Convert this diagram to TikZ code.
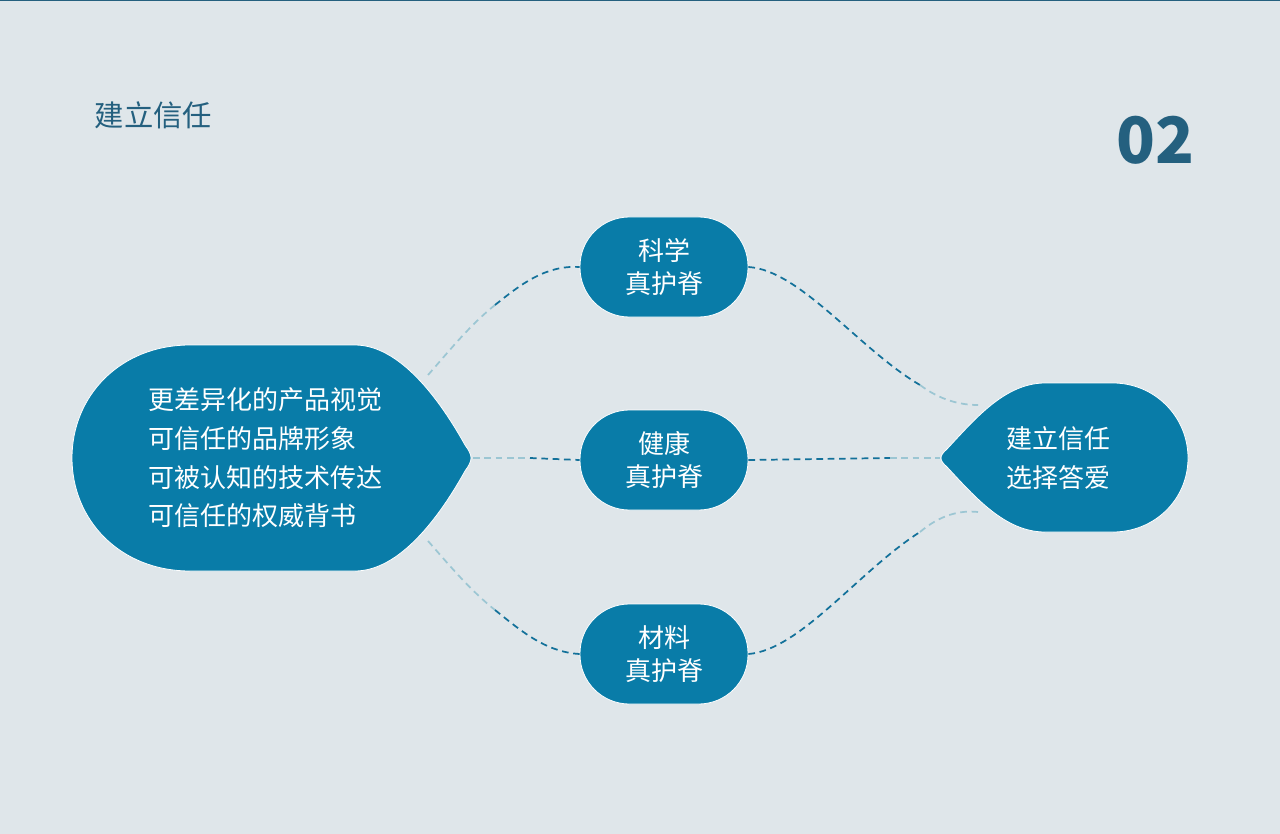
\documentclass[tikz,border=0pt]{standalone}
\usepackage{fontspec}
\newfontfamily\cjk{Noto Sans CJK SC}
\definecolor{bg}{HTML}{DFE6EA}
\definecolor{fillc}{HTML}{097CA8}
\definecolor{titlec}{HTML}{24607F}
\definecolor{dk}{HTML}{13719A}
\definecolor{lt}{HTML}{9CC6D3}
\tikzset{
 pill/.style={draw=white,line width=0.6pt,fill=fillc,rounded corners=37pt,minimum width=126pt,minimum height=75pt,text=white,font=\cjk\fontsize{19.5}{25}\selectfont,align=center},
 blob/.style={draw=white,line width=0.6pt,fill=fillc},
 dk/.style={draw=dk,dashed,dash pattern=on 5pt off 3.5pt,line width=1.3pt},
 lt/.style={draw=lt,dashed,dash pattern=on 5pt off 3.5pt,line width=1.3pt},
 wtxt/.style={text=white,font=\cjk\fontsize{19.5}{29}\selectfont,align=left}
}
\begin{document}
\begin{tikzpicture}[x=0.75pt,y=-0.75pt]
\fill[bg] (0,0) rectangle (1280,834);
\fill[titlec] (0,0) rectangle (1280,1.5);
\useasboundingbox (0,0) rectangle (1280,834);
\node[anchor=west,text=titlec,font=\cjk\fontsize{22}{26}\selectfont] (title) at (90,115) {建立信任};
\node[text=titlec,font=\cjk\bfseries\fontsize{48}{50}\selectfont] (num) at (1155,140) {02};
% left blob
\path[blob] (190,345) -- (355,345) .. controls (400,345) and (440,400) .. (465,445) .. controls (473,456) and (473,460) .. (465,471) .. controls (440,516) and (400,571) .. (355,571) -- (190,571) .. controls (120,571) and (72,520) .. (72,458) .. controls (72,396) and (120,345) .. (190,345) -- cycle;
\node[wtxt] (left) at (265,458) {更差异化的产品视觉\\可信任的品牌形象\\可被认知的技术传达\\可信任的权威背书};
% right blob
\path[blob] (1113,383) .. controls (1154,383) and (1188,416) .. (1188,458) .. controls (1188,500) and (1154,532) .. (1113,532) -- (1045,532) .. controls (1005,532) and (975,497) .. (947,467) .. controls (939,460) and (939,456) .. (947,449) .. controls (975,419) and (1005,383) .. (1045,383) -- cycle;
\node[wtxt,align=center] (right) at (1058,458) {建立信任\\选择答爱};
% pills
\node[pill] (p1) at (664,267) {科学\\真护脊};
\node[pill] (p2) at (664,460) {健康\\真护脊};
\node[pill] (p3) at (664,654) {材料\\真护脊};
% connector end coordinates
\coordinate (l1) at (428,375);
\coordinate (l2) at (473,458);
\coordinate (l3) at (428,541);
\coordinate (r1) at (978,405);
\coordinate (r2) at (940,458);
\coordinate (r3) at (978,512);
\coordinate (m1) at (495,305);
\coordinate (m2) at (530,458);
\coordinate (m3) at (495,610);
\coordinate (n1) at (920,385);
\coordinate (n2) at (890,458);
\coordinate (n3) at (920,532);
\draw[lt] (l1) .. controls (450,350) and (470,325) .. (m1);
\draw[dk] (m1) .. controls (520,285) and (545,265) .. (p1.west);
\draw[lt] (l2) -- (m2);
\draw[dk] (m2) -- (p2.west);
\draw[lt] (l3) .. controls (450,566) and (470,590) .. (m3);
\draw[dk] (m3) .. controls (520,630) and (545,652) .. (p3.west);
\draw[dk] (p1.east) .. controls (800,270) and (860,350) .. (n1);
\draw[lt] (n1) .. controls (940,400) and (960,405) .. (r1);
\draw[dk] (p2.east) -- (n2);
\draw[lt] (n2) -- (r2);
\draw[dk] (p3.east) .. controls (800,650) and (860,570) .. (n3);
\draw[lt] (n3) .. controls (940,515) and (960,510) .. (r3);
\end{tikzpicture}
\end{document}
